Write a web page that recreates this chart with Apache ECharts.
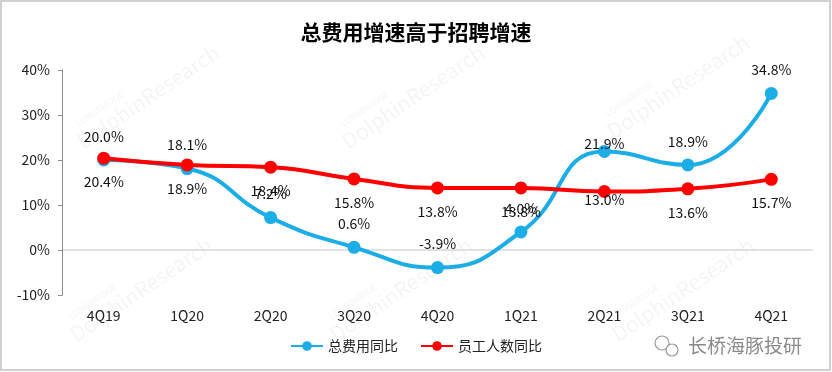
<!DOCTYPE html>
<html><head><meta charset="utf-8">
<script src="https://cdn.jsdelivr.net/npm/echarts@6/dist/echarts.min.js"></script>
<style>html,body{margin:0;padding:0;background:#fff}#c{width:832px;height:372px}</style>
</head><body><div id="c"></div>
<script>
const categories = ['4Q19','1Q20','2Q20','3Q20','4Q20','1Q21','2Q21','3Q21','4Q21'];
const totalCostYoY = [20.0, 18.1, 7.2, 0.6, -3.9, 4.0, 21.9, 18.9, 34.8];
const headcountYoY = [20.4, 18.9, 18.4, 15.8, 13.8, 13.8, 13.0, 13.6, 15.7];
const yTicks = [-10, 0, 10, 20, 30, 40];
const seriesNames = ['总费用同比', '员工人数同比'];
const titleText = '总费用增速高于招聘增速';
const watermark = '长桥海豚投研';

const FONT = '"Noto Sans CJK SC", "Noto Sans", sans-serif';
const chart = echarts.init(document.getElementById('c'), null, {renderer: 'canvas'});

function buildData(values, overrides) {
  return values.map((v, i) => overrides[i] ? {value: v, label: overrides[i]} : v);
}

const wmTexts = [];
[[85, 152], [350, 152], [615, 142], [78, 345], [338, 345], [620, 345]].forEach(p => {
  wmTexts.push({
    type: 'text', x: p[0], y: p[1], rotation: Math.PI * 0.19, silent: true, z: 0,
    style: {text: 'DolphinResearch', font: '21px ' + FONT, fill: 'rgba(0,0,0,0.045)', textVerticalAlign: 'bottom'}
  });
  wmTexts.push({
    type: 'text', x: p[0] - 6, y: p[1] - 24, rotation: Math.PI * 0.19, silent: true, z: 0,
    style: {text: 'LONGBRIDGE', font: '9px ' + FONT, fill: 'rgba(0,0,0,0.05)', textVerticalAlign: 'bottom'}
  });
});

chart.setOption({
  backgroundColor: '#fff',
  animation: false,
  title: {
    text: titleText, left: 'center', top: 17,
    textStyle: {fontFamily: FONT, fontSize: 21, fontWeight: 'bold', color: '#000'}
  },
  legend: {
    data: seriesNames, bottom: 14, left: 'center', itemWidth: 32, itemHeight: 12, itemGap: 22,
    textStyle: {fontFamily: FONT, fontSize: 14, color: '#222'}
  },
  grid: {left: 62, right: 19, top: 70, bottom: 77},
  xAxis: {
    type: 'category', data: categories, boundaryGap: true,
    axisLine: {show: false}, axisTick: {show: false},
    axisLabel: {margin: 14, fontFamily: FONT, fontSize: 14, color: '#222'}
  },
  yAxis: {
    type: 'value', min: yTicks[0], max: yTicks[yTicks.length - 1], interval: 10,
    axisLine: {show: true, lineStyle: {color: '#8c8c8c', width: 1}},
    axisTick: {show: true, length: 4, lineStyle: {color: '#8c8c8c'}},
    axisLabel: {formatter: '{value}%', margin: 12, fontFamily: FONT, fontSize: 14, color: '#222'},
    splitLine: {show: true, lineStyle: {color: yTicks.map(t => t === 0 ? '#d9d9d9' : 'rgba(0,0,0,0)'), width: 1.5}}
  },
  graphic: wmTexts.concat([
    {type: 'rect', shape: {x: 1, y: 1, width: 829, height: 369}, style: {fill: 'none', stroke: '#d0d0d0', lineWidth: 2}, silent: true},
    {type: 'text', x: 688, y: 346, silent: true, style: {text: watermark, font: '19px ' + FONT, fill: '#8a8a8a', textVerticalAlign: 'middle'}},
    {type: 'circle', shape: {cx: 662, cy: 343, r: 7}, style: {fill: '#fff', stroke: '#999', lineWidth: 1.2}, silent: true},
    {type: 'circle', shape: {cx: 672, cy: 350, r: 6}, style: {fill: '#fff', stroke: '#999', lineWidth: 1.2}, silent: true}
  ]),
  series: [
    {
      name: seriesNames[0], type: 'line', smooth: true, data: buildData(totalCostYoY, {6: {distance: -6}}),
      symbol: 'circle', symbolSize: 13, z: 2,
      itemStyle: {color: '#1CADE6'}, lineStyle: {width: 4, color: '#1CADE6'},
      label: {show: true, position: 'top', distance: 10, formatter: p => p.value.toFixed(1) + '%', fontFamily: FONT, fontSize: 14, color: '#111'}
    },
    {
      name: seriesNames[1], type: 'line', smooth: true, data: buildData(headcountYoY, {6: {distance: -5}}),
      symbol: 'circle', symbolSize: 13, z: 3,
      itemStyle: {color: '#FF0000'}, lineStyle: {width: 4, color: '#FF0000'},
      label: {show: true, position: 'bottom', distance: 10, formatter: p => p.value.toFixed(1) + '%', fontFamily: FONT, fontSize: 14, color: '#111'}
    }
  ]
});
</script></body></html>
